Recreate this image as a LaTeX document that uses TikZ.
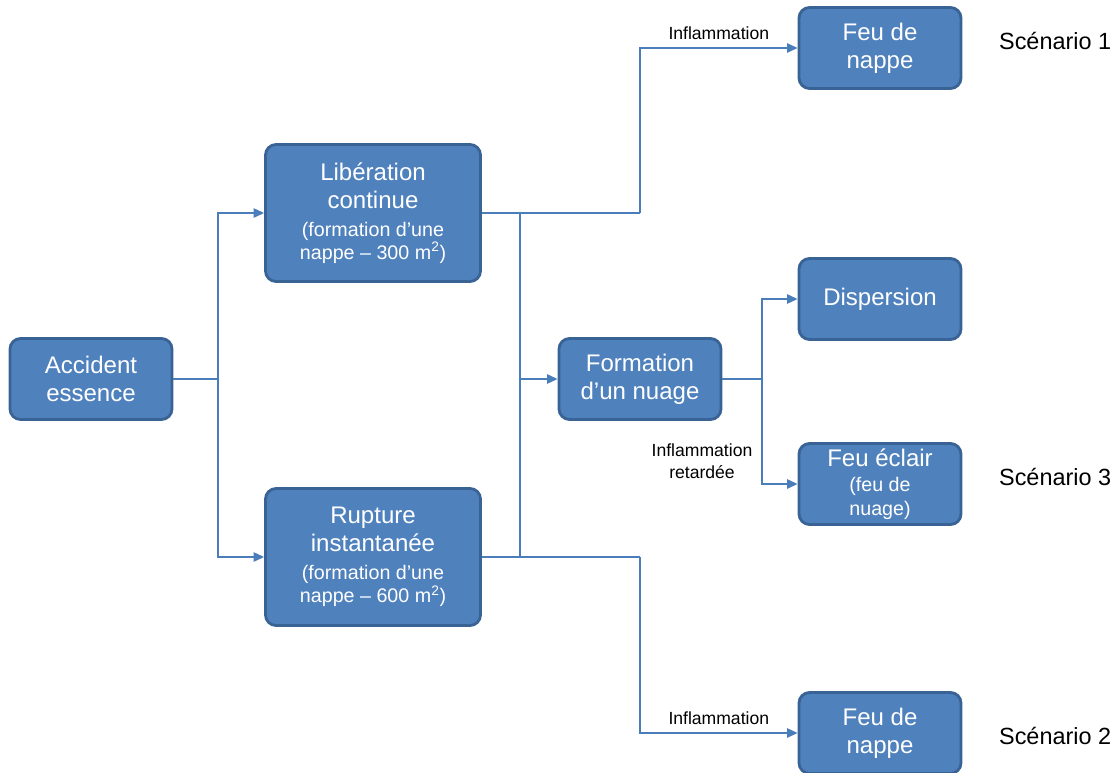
\documentclass[tikz,border=0pt]{standalone}
\usepackage{fontspec}
\setmainfont{Liberation Sans}
\usetikzlibrary{arrows.meta}
\definecolor{boxblue}{HTML}{4F81BD}
\definecolor{boxedge}{HTML}{3A6395}
\definecolor{lineblue}{HTML}{4A7EBB}
\tikzset{
  event/.style={draw=boxedge, line width=2.4pt, fill=boxblue, rounded corners=9pt,
    text=white, align=center, inner sep=0pt,
    font=\fontsize{20.5}{23.8}\selectfont},
  smallbox/.style={event, minimum width=4.86cm, minimum height=2.43cm},
  bigbox/.style={event, minimum width=6.45cm, minimum height=4.11cm},
  link/.style={draw=lineblue, line width=1.4pt},
  lbl/.style={font=\fontsize{15}{18.5}\selectfont, align=center},
  scen/.style={font=\fontsize{20}{24}\selectfont, anchor=west},
}
\newcommand{\smalltxt}[1]{{\fontsize{16.8}{20.4}\selectfont #1}}
\begin{document}
\begin{tikzpicture}[x=0.03cm, y=-0.03cm, >={Triangle[length=9pt,width=8pt]}]
\useasboundingbox (0,0) rectangle (1118,772);
% Events
\node[smallbox] (accident) at (91,379) {Accident\\essence};
\node[bigbox] (liberation) at (373,213) {Libération\\continue\\\smalltxt{(formation d’une}\\[-4pt]\smalltxt{nappe – 300 m\textsuperscript{2})}};
\node[bigbox] (rupture) at (373,557) {Rupture\\instantanée\\\smalltxt{(formation d’une}\\[-4pt]\smalltxt{nappe – 600 m\textsuperscript{2})}};
\node[smallbox] (nuage) at (640,379) {Formation\\d’un nuage};
\node[smallbox] (feu-haut) at (880,48) {Feu de\\nappe};
\node[smallbox] (dispersion) at (880,299) {Dispersion};
\node[smallbox] (eclair) at (880,484) {Feu éclair\\[-2pt]\smalltxt{(feu de}\\[-4pt]\smalltxt{nuage)}};
\node[smallbox] (feu-bas) at (880,733) {Feu de\\nappe};
% Scenarios
\node[scen] (scen1) at (995,41) {Scénario 1};
\node[scen] (scen3) at (995,477) {Scénario 3};
\node[scen] (scen2) at (995,736) {Scénario 2};
% Branch points
\coordinate (split) at (218,379);
\coordinate (join-top) at (520,213);
\coordinate (join-bot) at (520,557);
\coordinate (join-mid) at (520,379);
\coordinate (up) at (640,213);
\coordinate (down) at (640,557);
\coordinate (fork) at (762,379);
% Left branching
\draw[link] (accident) -- (split);
\draw[link,->] (split) |- (liberation);
\draw[link,->] (split) |- (rupture);
% Towards the cloud
\draw[link] (liberation) -- (join-top) -- (join-bot);
\draw[link,->] (join-mid) -- (nuage);
% Pool fires
\draw[link] (liberation) -- (up);
\draw[link,->] (up) |- (feu-haut) node[lbl, pos=0.75, above=3pt] (infl-haut) {Inflammation};
\draw[link] (rupture) -- (down);
\draw[link,->] (down) |- (feu-bas) node[lbl, pos=0.75, above=3pt] (infl-bas) {Inflammation};
% Cloud outcomes
\draw[link] (nuage) -- (fork);
\draw[link,->] (fork) |- (dispersion);
\draw[link,->] (fork) |- (eclair);
\node[lbl] (infl-ret) at (702,461) {Inflammation\\retardée};
\end{tikzpicture}
\end{document}
